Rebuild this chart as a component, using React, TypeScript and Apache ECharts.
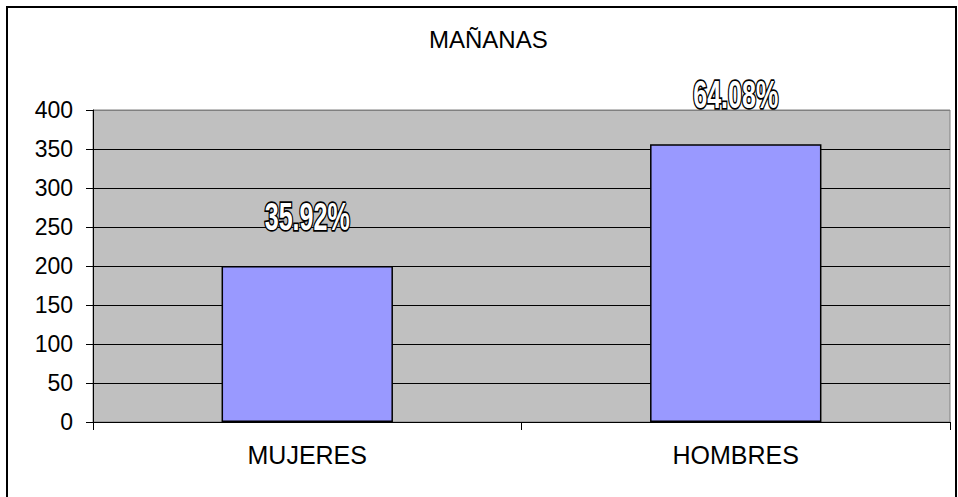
import React, { useEffect, useRef } from "react";
import * as echarts from "echarts";

const titleText = "MAÑANAS";
const categories = ["MUJERES", "HOMBRES"];
const values = [200, 356];
const percentLabels = ["35.92%", "64.08%"];
const yTicks = [0, 50, 100, 150, 200, 250, 300, 350, 400];

export default function App() {
  const ref = useRef<HTMLDivElement>(null);
  useEffect(() => {
    if (!ref.current) return;
    const chart = echarts.init(ref.current, null, { renderer: "svg" });
    const splitColors = yTicks.map((_, i) => (i === yTicks.length - 1 ? "#808080" : "#000000"));
    const frame = {
      id: "frame",
      type: "rect",
      shape: { x: 7, y: 7, width: 949, height: 520 },
      style: { fill: "none", stroke: "#000", lineWidth: 2 },
      silent: true,
      z: 100,
    };
    chart.setOption({
      animation: false,
      backgroundColor: "#ffffff",
      title: {
        text: titleText,
        left: 424,
        top: 22,
        textStyle: {
          fontFamily: "'Liberation Sans', Arial, sans-serif",
          fontWeight: "normal",
          fontSize: 24,
          color: "#000",
        },
      },
      grid: {
        left: 93,
        right: 8,
        top: 110,
        bottom: 75,
        show: true,
        backgroundColor: "#C0C0C0",
        borderColor: "#808080",
        borderWidth: 1,
      },
      xAxis: {
        type: "category",
        data: categories,
        boundaryGap: true,
        axisLine: { show: true, lineStyle: { color: "#000", width: 1 } },
        axisTick: { show: true, length: 8, alignWithLabel: false, lineStyle: { color: "#000" } },
        axisLabel: {
          margin: 20,
          fontFamily: "'Liberation Sans', Arial, sans-serif",
          fontSize: 25,
          color: "#000",
        },
        splitLine: { show: false },
      },
      yAxis: {
        type: "value",
        min: 0,
        max: 400,
        interval: 50,
        axisLine: { show: true, lineStyle: { color: "#000", width: 1 } },
        axisTick: { show: true, length: 7, lineStyle: { color: "#000" } },
        axisLabel: {
          margin: 20,
          fontFamily: "'Liberation Sans', Arial, sans-serif",
          fontSize: 23,
          color: "#000",
        },
        splitLine: { show: true, lineStyle: { color: splitColors, width: 1 } },
      },
      series: [
        {
          type: "bar",
          data: values,
          barWidth: "40%",
          itemStyle: { color: "#9999FF", borderColor: "#000", borderWidth: 1.5 },
          label: { show: false },
        },
      ],
      graphic: [frame],
    });
    const font = "bold 38px 'Liberation Sans', Arial, sans-serif";
    const labelEls: any[] = [];
    values.forEach((v, i) => {
      const pt = chart.convertToPixel({ seriesIndex: 0 }, [i, v]) as number[];
      const base = {
        type: "text",
        x: pt[0],
        y: pt[1] - 30,
        scaleX: 0.66,
        silent: true,
      };
      labelEls.push({
        ...base,
        id: "pctStroke" + i,
        z: 50,
        style: {
          text: percentLabels[i],
          align: "center",
          verticalAlign: "bottom",
          font,
          fill: "#000000",
          stroke: "#000000",
          lineWidth: 3.5,
        },
      });
      labelEls.push({
        ...base,
        id: "pctFill" + i,
        z: 51,
        style: {
          text: percentLabels[i],
          align: "center",
          verticalAlign: "bottom",
          font,
          fill: "#ffffff",
        },
      });
    });
    chart.setOption({ graphic: [frame, ...labelEls] });
    return () => chart.dispose();
  }, []);
  return (
    <div
      ref={ref}
      style={{ position: "fixed", left: 0, top: 0, width: 958, height: 497 }}
    />
  );
}
